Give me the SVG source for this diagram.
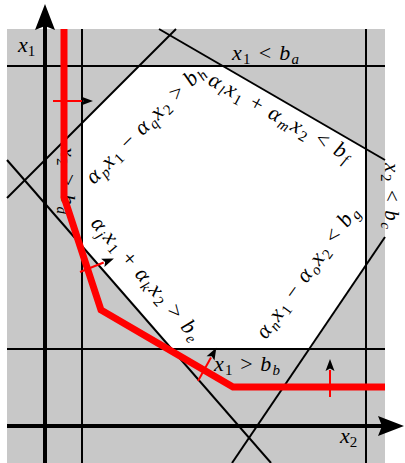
<svg xmlns="http://www.w3.org/2000/svg" width="405" height="463" viewBox="0 0 405 463">
<style>
.m{font-family:"Liberation Serif","Times New Roman",serif;font-size:22px;fill:#000}
.i{font-style:italic}
.s{font-size:15px}
.ln{stroke:#000;stroke-width:2;fill:none}
.ax{stroke:#000;stroke-width:4;fill:none}
.red{stroke:#ff0000;stroke-width:7;fill:none;stroke-linejoin:miter}
.tick{stroke:#ff0000;stroke-width:2;fill:none}
</style>
<defs>
<marker id="ah" markerUnits="userSpaceOnUse" markerWidth="14" markerHeight="12" refX="1" refY="0" orient="auto" style="overflow:visible">
<path d="M0,-4.5 L12,0 L0,4.5 L2.5,0 Z" fill="#000"/>
</marker>
</defs>
<g id="background">
<rect x="7" y="29" width="378" height="434" fill="#c8c8c8"/>
<polygon points="139,66 223.3,66 366,148.6 366,265 310.5,349 171.8,349 82,246 82,123" fill="#fff"/>
</g>
<g id="connectors">
<line class="ln" x1="7" y1="66" x2="385" y2="66"/>
<line class="ln" x1="7" y1="349" x2="385" y2="349"/>
<line class="ln" x1="82" y1="29" x2="82" y2="463"/>
<line class="ln" x1="366" y1="29" x2="366" y2="463"/>
<line class="ln" x1="7" y1="198" x2="176" y2="29"/>
<line class="ln" x1="159" y1="29" x2="385" y2="160"/>
<line class="ln" x1="385" y1="237" x2="232" y2="463"/>
<line class="ln" x1="7" y1="160" x2="271" y2="463"/>
<line class="ax" x1="45" y1="463" x2="45" y2="26"/>
<path d="M45,4 L55,30 L45,26 L35,30 Z" fill="#000"/>
<line class="ax" x1="7" y1="426" x2="382" y2="426"/>
<path d="M404,426 L378,416 L382,426 L378,436 Z" fill="#000"/>
</g>
<g id="labels">
<text id="lab-x1" class="m" x="18" y="52"><tspan class="i">x</tspan><tspan class="s" dy="4">1</tspan></text>
<text id="lab-x2" class="m" x="340" y="443"><tspan class="i">x</tspan><tspan class="s" dy="4">2</tspan></text>
<text id="lab-a" class="m" x="232" y="60" textLength="67" lengthAdjust="spacing"><tspan class="i">x</tspan><tspan class="s" dy="4">1</tspan><tspan dy="-4"> &lt; </tspan><tspan class="i">b</tspan><tspan class="s i" dy="4">a</tspan></text>
<text id="lab-b" class="m" x="214" y="371" textLength="66" lengthAdjust="spacing"><tspan class="i">x</tspan><tspan class="s" dy="4">1</tspan><tspan dy="-4"> &gt; </tspan><tspan class="i">b</tspan><tspan class="s i" dy="4">b</tspan></text>
<text id="lab-c" class="m" style="font-size:21px" transform="translate(385,163) rotate(90)" textLength="66" lengthAdjust="spacing"><tspan class="i">x</tspan><tspan class="s" dy="4">2</tspan><tspan dy="-4"> &lt; </tspan><tspan class="i">b</tspan><tspan class="s i" dy="4">c</tspan></text>
<text id="lab-d" class="m" transform="translate(61,147) rotate(90)" textLength="67" lengthAdjust="spacing"><tspan class="i">x</tspan><tspan class="s" dy="4">2</tspan><tspan dy="-4"> &gt; </tspan><tspan class="i">b</tspan><tspan class="s i" dy="4">d</tspan></text>
<text id="lab-e" class="m" transform="translate(90,224) rotate(49)" textLength="156" lengthAdjust="spacing"><tspan class="i">α</tspan><tspan class="s i" dy="4">j</tspan><tspan class="i" dy="-4">x</tspan><tspan class="s" dy="4">1</tspan><tspan dy="-4"> + </tspan><tspan class="i">α</tspan><tspan class="s i" dy="4">k</tspan><tspan class="i" dy="-4">x</tspan><tspan class="s" dy="4">2</tspan><tspan dy="-4"> &gt; </tspan><tspan class="i">b</tspan><tspan class="s i" dy="4">e</tspan></text>
<text id="lab-f" class="m" transform="translate(207,84) rotate(29)" textLength="160" lengthAdjust="spacing"><tspan class="i">α</tspan><tspan class="s i" dy="4">l</tspan><tspan class="i" dy="-4">x</tspan><tspan class="s" dy="4">1</tspan><tspan dy="-4"> + </tspan><tspan class="i">α</tspan><tspan class="s i" dy="4">m</tspan><tspan class="i" dy="-4">x</tspan><tspan class="s" dy="4">2</tspan><tspan dy="-4"> &lt; </tspan><tspan class="i">b</tspan><tspan class="s i" dy="4">f</tspan></text>
<text id="lab-g" class="m" transform="translate(266,340) rotate(-54)" textLength="158" lengthAdjust="spacing"><tspan class="i">α</tspan><tspan class="s i" dy="4">n</tspan><tspan class="i" dy="-4">x</tspan><tspan class="s" dy="4">1</tspan><tspan dy="-4"> − </tspan><tspan class="i">α</tspan><tspan class="s i" dy="4">o</tspan><tspan class="i" dy="-4">x</tspan><tspan class="s" dy="4">2</tspan><tspan dy="-4"> &lt; </tspan><tspan class="i">b</tspan><tspan class="s i" dy="4">g</tspan></text>
<text id="lab-h" class="m" transform="translate(94,185) rotate(-45)" textLength="158" lengthAdjust="spacing"><tspan class="i">α</tspan><tspan class="s i" dy="4">p</tspan><tspan class="i" dy="-4">x</tspan><tspan class="s" dy="4">1</tspan><tspan dy="-4"> − </tspan><tspan class="i">α</tspan><tspan class="s i" dy="4">q</tspan><tspan class="i" dy="-4">x</tspan><tspan class="s" dy="4">2</tspan><tspan dy="-4"> &gt; </tspan><tspan class="i">b</tspan><tspan class="s i" dy="4">h</tspan></text>
</g>
<g id="path">
<polyline class="red" points="64,29 64,197 101,310 233,387 385,387"/>
<line class="tick" x1="53" y1="101" x2="82" y2="101" marker-end="url(#ah)"/>
<line class="tick" x1="80" y1="272" x2="103.7" y2="262.5" marker-end="url(#ah)"/>
<line class="tick" x1="198" y1="381" x2="211" y2="357.5" marker-end="url(#ah)"/>
<line class="tick" x1="330" y1="397" x2="330" y2="370" marker-end="url(#ah)"/>
</g>
</svg>
